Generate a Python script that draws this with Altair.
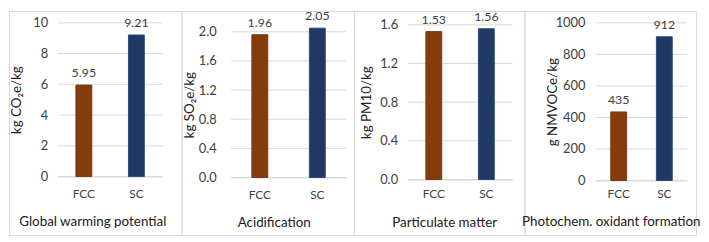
import altair as alt
import pandas as pd

# ---- data ----
categories = ["FCC", "SC"]
panel_titles = ["Global warming potential", "Acidification", "Particulate matter",
                "Photochem. oxidant formation"]
y_titles = ["kg CO\u2082e/kg", "kg SO\u2082e/kg", "kg PM10/kg", "g NMVOCe/kg"]
values = [[5.95, 9.21], [1.96, 2.05], [1.53, 1.56], [435, 912]]
y_ticks = [[0, 2, 4, 6, 8, 10],
           [0.0, 0.4, 0.8, 1.2, 1.6, 2.0],
           [0.0, 0.4, 0.8, 1.2, 1.6],
           [0, 200, 400, 600, 800, 1000]]
y_max = [10, 2.0, 1.6, 1000]
tick_formats = ["d", ".1f", ".1f", "d"]
value_formats = [".2f", ".2f", ".2f", "d"]

# ---- styling / layout ----
colors = ["#843C0C", "#1F3864"]
strokes = ["#7A3A14", "#2F4A80"]
FONT = "Lato"
TXT = "#404040"
GRID = "#d9d9d9"
H = 226
widths = [174, 174, 172, 173]
x_ranges = [[49, 155], [50, 166], [54, 160], [72, 164]]
y_ranges = [[167, 12], [168, 21], [170, 14], [171, 12]]
label_right = [39, 35, 44, 61]
ytitle_x = [8, 8, 13, 28]
cat_center = [184, 185, 184, 184]
title_center = [212, 213, 213, 212]
title_x = [84, 93, 91, 87]


def panel(i):
    df = pd.DataFrame({"c": categories, "v": values[i]})
    tdf = pd.DataFrame({"v": y_ticks[i]})
    gs, ge = x_ranges[i]
    zero, top = y_ranges[i]
    yscale = alt.Scale(domain=[0, y_max[i]], range=[zero, top], nice=False, zero=True)
    xscale = alt.Scale(domain=categories, range=[gs, ge], paddingInner=0, paddingOuter=0)
    cscale = alt.Scale(domain=categories, range=colors)
    sscale = alt.Scale(domain=categories, range=strokes)

    xaxis = alt.Axis(orient="bottom", offset=-(H - zero), ticks=False, tickSize=0,
                     domainColor=GRID, domainWidth=1, labelAngle=0,
                     labelPadding=cat_center[i] - zero, labelBaseline="middle",
                     labelFont=FONT, labelFontSize=12, labelColor=TXT,
                     title=panel_titles[i], titleFont=FONT, titleFontSize=13.5,
                     titleFontWeight="normal", titleColor="#202020",
                     titleX=title_x[i], titleY=title_center[i] - zero,
                     titleBaseline="middle", titleAlign="center")
    yaxis = alt.Axis(orient="left", offset=-gs, values=y_ticks[i],
                     format=tick_formats[i], grid=False, domain=False,
                     ticks=False, tickSize=0, labelPadding=gs - label_right[i],
                     labelFont=FONT, labelFontSize=13, labelColor=TXT,
                     title=y_titles[i], titleFont=FONT, titleFontSize=13.5,
                     titleFontWeight="normal", titleColor="#202020",
                     titleX=ytitle_x[i] - gs, titleBaseline="middle")

    grid = alt.Chart(tdf).mark_rule(color=GRID, strokeWidth=1).encode(
        y=alt.Y("v:Q", scale=yscale, axis=yaxis),
        x=alt.value(gs),
        x2=alt.value(ge),
    )
    bars = alt.Chart(df).mark_bar(size=16, strokeWidth=1).encode(
        x=alt.X("c:N", scale=xscale, sort=categories, axis=xaxis),
        y=alt.Y("v:Q", scale=yscale, axis=yaxis),
        color=alt.Color("c:N", scale=cscale, legend=None),
        stroke=alt.Stroke("c:N", scale=sscale, legend=None),
    )
    labels = alt.Chart(df).mark_text(baseline="middle", dy=-12, font=FONT,
                                     fontSize=12.5, color=TXT).encode(
        x=alt.X("c:N", scale=xscale, sort=categories, axis=xaxis),
        y=alt.Y("v:Q", scale=yscale, axis=yaxis),
        text=alt.Text("v:Q", format=value_formats[i]),
    )
    return alt.layer(grid, bars, labels).properties(width=widths[i], height=H)


chart = alt.hconcat(*[panel(i) for i in range(4)], spacing=0, bounds="flush").properties(
    padding=0
).configure_view(stroke=GRID, strokeWidth=1).configure_axis(grid=False)

chart.save("out.html", embed_options={"renderer": "svg", "actions": False})
